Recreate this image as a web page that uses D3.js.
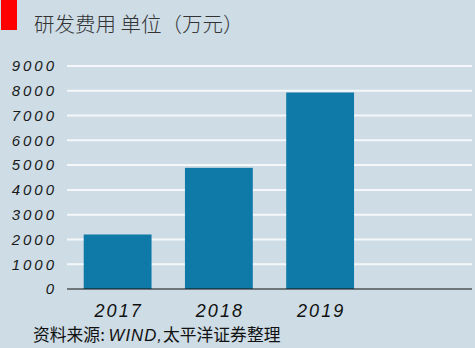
<!DOCTYPE html>
<html>
<head>
<meta charset="utf-8">
<script src="https://cdn.jsdelivr.net/npm/d3@7/dist/d3.min.js"></script>
<style>
  html, body { margin: 0; padding: 0; background: #cddce5; }
  svg { display: block; }
</style>
</head>
<body>
<script>
// R&D expense by year (unit: 10k CNY); the last slot is an empty band
const categories = ["2017", "2018", "2019", ""];
const values = [2200, 4890, 7930, null];
const yTicks = [0, 1000, 2000, 3000, 4000, 5000, 6000, 7000, 8000, 9000];
const titleText = "研发费用 单位（万元）";
const sourcePrefix = "资料来源: ";
const sourceWind = "WIND,";
const sourceSuffix = "太平洋证券整理";

const W = 475, H = 348;
const margin = { left: 67, right: 3, top: 66, bottom: 59 };
const numFont = "'Comic Sans MS', 'Liberation Sans', 'DejaVu Sans', sans-serif";
const cjkFont = "'Noto Sans CJK SC', sans-serif";

const svg = d3.select("body").append("svg")
  .attr("width", W).attr("height", H);

svg.append("rect").attr("width", W).attr("height", H).attr("fill", "#cddce5");

const x = d3.scaleBand()
  .domain(categories)
  .range([margin.left, W - margin.right])
  .paddingInner(0.33)
  .paddingOuter(0.165);

const y = d3.scaleLinear()
  .domain([0, 9000])
  .range([H - margin.bottom, margin.top]);

// gridlines
svg.append("g")
  .selectAll("line")
  .data(yTicks.filter(d => d > 0))
  .join("line")
  .attr("x1", margin.left).attr("x2", W - margin.right)
  .attr("y1", d => y(d)).attr("y2", d => y(d))
  .attr("stroke", "#f4f8fa").attr("stroke-width", 2);

// y axis labels
const yAxis = d3.axisLeft(y).tickValues(yTicks).tickSize(0).tickPadding(10).tickFormat(d3.format("d"));
const gy = svg.append("g").attr("transform", `translate(${margin.left},0)`).call(yAxis);
gy.select(".domain").remove();
gy.selectAll("text")
  .attr("font-family", numFont).attr("font-style", "italic")
  .attr("font-size", 15).attr("letter-spacing", 3)
  .attr("fill", "#1a1a1a");

// bars
svg.append("g")
  .selectAll("rect")
  .data(categories.map((c, i) => ({ c, v: values[i] })).filter(d => d.v != null))
  .join("rect")
  .attr("x", d => x(d.c))
  .attr("width", x.bandwidth())
  .attr("y", d => y(d.v))
  .attr("height", d => y(0) - y(d.v))
  .attr("fill", "#0f79a7");

// baseline
svg.append("line")
  .attr("x1", margin.left).attr("x2", W - margin.right)
  .attr("y1", y(0)).attr("y2", y(0))
  .attr("stroke", "#111").attr("stroke-width", 1.2);

// x axis labels
const xAxis = d3.axisBottom(x).tickSize(0).tickPadding(15);
const gx = svg.append("g").attr("transform", `translate(1,${y(0)})`).call(xAxis);
gx.select(".domain").remove();
gx.selectAll("text")
  .attr("font-family", numFont).attr("font-style", "italic")
  .attr("font-size", 18).attr("letter-spacing", 2)
  .attr("fill", "#111");

// title marker and text
svg.append("rect").attr("x", 1).attr("y", 0).attr("width", 16).attr("height", 30).attr("fill", "#ff0000");
svg.append("text")
  .attr("x", 34).attr("y", 32)
  .attr("font-family", cjkFont).attr("font-size", 20.5).attr("font-weight", 300)
  .attr("fill", "#333")
  .text(titleText);

// source note
const src = svg.append("text")
  .attr("x", 33).attr("y", 341)
  .attr("font-size", 16.8)
  .attr("fill", "#111");
src.append("tspan").attr("font-family", cjkFont).text(sourcePrefix);
src.append("tspan").attr("font-family", numFont).attr("font-style", "italic")
  .attr("letter-spacing", 1).text(sourceWind);
src.append("tspan").attr("font-family", cjkFont).text(sourceSuffix);
</script>
</body>
</html>
